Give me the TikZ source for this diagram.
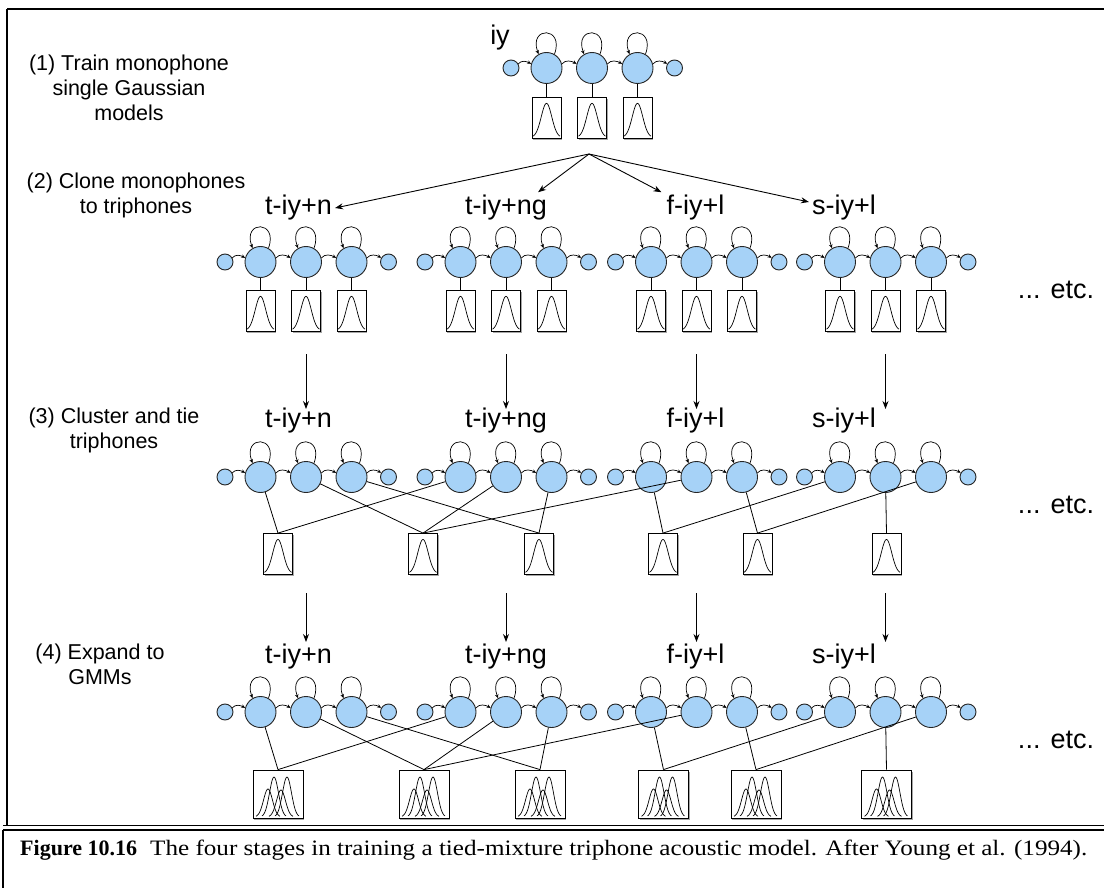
\documentclass[tikz,border=0pt]{standalone}
\usepackage{fontspec}
\setmainfont{Liberation Sans}
\newfontfamily\capfont{Liberation Serif}
\usepackage{graphicx}
\usetikzlibrary{positioning, arrows.meta, shadows, calc}
\definecolor{statefill}{RGB}{166,210,247}

% one left-to-right HMM: entry, three emitting states, exit
\newcommand{\hmm}[3]{%
  \node[entry] (#1e) at ({#2-35.5}, #3) {};
  \node[state] (#11) at (#2, #3) {};
  \node[state] (#12) at ({#2+45.5}, #3) {};
  \node[state] (#13) at ({#2+91}, #3) {};
  \node[entry] (#1x) at ({#2+128}, #3) {};
  \draw[trans] (#1e.30) to[out=50, in=150] (#11.165);
  \draw[trans] (#11.15) to[out=50, in=150] (#12.165);
  \draw[trans] (#12.15) to[out=50, in=150] (#13.165);
  \draw[trans] (#13.15) to[out=50, in=150] (#1x.150);
  \draw[trans] (#11.60) .. controls +(70:30pt) and +(110:30pt) .. (#11.120);
  \draw[trans] (#12.60) .. controls +(70:30pt) and +(110:30pt) .. (#12.120);
  \draw[trans] (#13.60) .. controls +(70:30pt) and +(110:30pt) .. (#13.120);
}

\begin{document}
\begin{tikzpicture}[
    x=1pt, y=-1pt,
    state/.style={
      circle, draw=black!85, fill=statefill,
      minimum size=31pt, inner sep=0pt, line width=0.9pt},
    entry/.style={state, minimum size=16pt},
    trans/.style={-{Stealth[length=4pt, width=3.5pt]}, line width=0.7pt},
    stem/.style={line width=0.8pt},
    arr/.style={-{Stealth[length=8pt, width=6pt]}, line width=0.9pt},
    sbox/.style={
      draw, fill=white, line width=0.8pt,
      minimum width=29pt, minimum height=41pt, inner sep=0pt,
      drop shadow={shadow xshift=1pt, shadow yshift=-1.5pt,
                   opacity=0.35, fill=black},
      path picture={
        \draw[line width=0.7pt, shift={(path picture bounding box.center)}]
          plot[variable=\t, domain=-13.5:13.5, samples=45, smooth]
          ({\t}, {19.5-34*exp(-((\t)*(\t))/55)});}},
    gbox/.style={
      sbox, minimum width=50pt, minimum height=48pt,
      path picture={
        \foreach \m/\h in {-10/28, -4/40, 3/27, 9/40}
          \draw[line width=0.7pt, shift={(path picture bounding box.center)}]
            plot[variable=\t, domain=-12:12, samples=35, smooth]
            ({\m+\t}, {23-\h*exp(-((\t)*(\t))/40)});}},
    phn/.style={font=\fontsize{27}{30}\selectfont, inner sep=3pt},
    stage/.style={font=\fontsize{21.5}{25}\selectfont, align=center},
    etc/.style={font=\fontsize{27}{30}\selectfont},
]

\useasboundingbox (0,0) rectangle (1104,888);
\fill[white] (0,0) rectangle (1104,888);

% Frame and caption rules
\draw[line width=2.5pt] (7,9) -- (1104,9);
\draw[line width=1.5pt] (7,9) -- (7,826);
\draw[line width=1pt] (3,825) -- (1104,825);
\draw[line width=2.5pt] (3,830) -- (1104,830);
\draw[line width=1.2pt] (3,830) -- (3,888);

% Stage captions on the left
\node[stage] (st1) at (129,88) {(1) Train monophone\\single Gaussian\\models};
\node[stage] (st2) at (136,195) {(2) Clone monophones\\to triphones};
\node[stage] (st3) at (114,430) {(3) Cluster and tie\\triphones};
\node[stage] (st4) at (100,664) {(4) Expand to\\GMMs};

% --- Stage 1: monophone ---
\node[phn] (l1) at (500,38) {iy};
\hmm{s1}{546.5}{68}
\node[sbox, below=13pt of s11] (g11) {};
\node[sbox, below=13pt of s12] (g12) {};
\node[sbox, below=13pt of s13] (g13) {};
\draw[stem] (s11) -- (g11);
\draw[stem] (s12) -- (g12);
\draw[stem] (s13) -- (g13);

% --- Stage 2: cloned triphones ---
\node[phn] (l2a) at (298.5,208) {t-iy+n};
\node[phn] (l2b) at (506,208) {t-iy+ng};
\node[phn] (l2c) at (695.5,208) {f-iy+l};
\node[phn] (l2d) at (844,208) {s-iy+l};

\coordinate (fork) at (589,154);
\draw[arr] (fork) -- (l2a.east);
\draw[arr] (fork) -- ([xshift=-12pt]l2b.north east);
\draw[arr] (fork) -- ([xshift=-2pt]l2c.north west);
\draw[arr] (fork) -- ([yshift=6pt]l2d.west);

\hmm{s2a}{260.5}{262}
\hmm{s2b}{460.5}{262}
\hmm{s2c}{651}{262}
\hmm{s2d}{840}{262}

\foreach \g in {a,b,c,d} {
  \foreach \k in {1,2,3} {
    \node[sbox, below=12pt of s2\g\k] (g2\g\k) {};
    \draw[stem] (s2\g\k) -- (g2\g\k);
  }
}

\node[etc] (etc2) at (1056,290) {... etc.};

% Clone -> tie
\coordinate (dn2a) at (0,354);
\coordinate (dn2b) at (0,409);
\draw[arr] (s2a2 |- dn2a) -- (s2a2 |- dn2b);
\draw[arr] (s2b2 |- dn2a) -- (s2b2 |- dn2b);
\draw[arr] (s2c2 |- dn2a) -- (s2c2 |- dn2b);
\draw[arr] (s2d2 |- dn2a) -- (s2d2 |- dn2b);

% --- Stage 3: tied states ---
\node[phn] (l3a) at (298.5,421) {t-iy+n};
\node[phn] (l3b) at (506,421) {t-iy+ng};
\node[phn] (l3c) at (695.5,421) {f-iy+l};
\node[phn] (l3d) at (844,421) {s-iy+l};

\hmm{s3a}{260.5}{477}
\hmm{s3b}{460.5}{477}
\hmm{s3c}{651}{477}
\hmm{s3d}{840}{477}

\node[sbox] (t1) at (278,554) {};
\node[sbox] (t2) at (423,554) {};
\node[sbox] (t3) at (539,554) {};
\node[sbox] (t4) at (663,554) {};
\node[sbox] (t5) at (757.5,554) {};
\node[sbox] (t6) at (886.5,554) {};

\draw[stem] (s3a1) -- (t1.north);
\draw[stem] (s3a2) -- (t2.north);
\draw[stem] (s3a3) -- (t3.north);
\draw[stem] (s3b1) -- (t1.north);
\draw[stem] (s3b2) -- (t2.north);
\draw[stem] (s3b3) -- (t3.north);
\draw[stem] (s3c1) -- (t4.north);
\draw[stem] (s3c2) -- (t2.north);
\draw[stem] (s3c3) -- (t5.north);
\draw[stem] (s3d1) -- (t4.north);
\draw[stem] (s3d2) -- (t6.north);
\draw[stem] (s3d3) -- (t5.north);

\node[etc] (etc3) at (1056,505) {... etc.};

% Tie -> expand
\coordinate (dn3a) at (0,593);
\coordinate (dn3b) at (0,642);
\draw[arr] (s3a2 |- dn3a) -- (s3a2 |- dn3b);
\draw[arr] (s3b2 |- dn3a) -- (s3b2 |- dn3b);
\draw[arr] (s3c2 |- dn3a) -- (s3c2 |- dn3b);
\draw[arr] (s3d2 |- dn3a) -- (s3d2 |- dn3b);

% --- Stage 4: mixtures ---
\node[phn] (l4a) at (298.5,657) {t-iy+n};
\node[phn] (l4b) at (506,657) {t-iy+ng};
\node[phn] (l4c) at (695.5,657) {f-iy+l};
\node[phn] (l4d) at (844,657) {s-iy+l};

\hmm{s4a}{260.5}{712}
\hmm{s4b}{460.5}{712}
\hmm{s4c}{651}{712}
\hmm{s4d}{840}{712}

\node[gbox] (m1) at (278,794) {};
\node[gbox] (m2) at (424,794) {};
\node[gbox] (m3) at (540,794) {};
\node[gbox] (m4) at (663.5,794) {};
\node[gbox] (m5) at (756,794) {};
\node[gbox] (m6) at (886.5,794) {};

\draw[stem] (s4a1) -- (m1.north);
\draw[stem] (s4a2) -- (m2.north);
\draw[stem] (s4a3) -- (m3.north);
\draw[stem] (s4b1) -- (m1.north);
\draw[stem] (s4b2) -- (m2.north);
\draw[stem] (s4b3) -- (m3.north);
\draw[stem] (s4c1) -- (m4.north);
\draw[stem] (s4c2) -- (m2.north);
\draw[stem] (s4c3) -- (m5.north);
\draw[stem] (s4d1) -- (m4.north);
\draw[stem] (s4d2) -- (m6.north);
\draw[stem] (s4d3) -- (m5.north);

\node[etc] (etc4) at (1056,740) {... etc.};

% Caption
\node[anchor=west, inner sep=0pt] (capno) at (20,850)
  {\resizebox{117pt}{\height}{\capfont\bfseries\fontsize{22}{24}\selectfont Figure 10.16}};
\node[anchor=west, inner sep=0pt] (captxt) at (150,850)
  {\resizebox{937pt}{\height}{\capfont\fontsize{22}{24}\selectfont The four stages in training a tied-mixture triphone acoustic model. After Young et al. (1994).}};

\end{tikzpicture}
\end{document}
